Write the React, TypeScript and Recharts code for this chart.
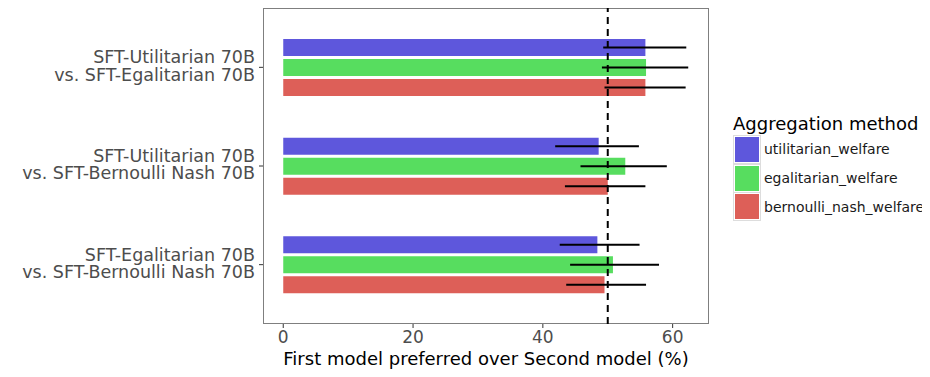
import { BarChart, Bar, XAxis, YAxis, ErrorBar, ReferenceLine, CartesianGrid, Legend } from 'recharts';

// model pairs compared (first line / second line of the axis label)
const pairsTop = ['SFT-Utilitarian 70B', 'SFT-Utilitarian 70B', 'SFT-Egalitarian 70B'];
const pairsBottom = ['vs. SFT-Egalitarian 70B', 'vs. SFT-Bernoulli Nash 70B', 'vs. SFT-Bernoulli Nash 70B'];

// win rate (%) per aggregation method, with interval bounds
const utilitarian = [55.8, 48.6, 48.4];
const utilitarianLow = [49.3, 41.9, 42.6];
const utilitarianHigh = [62.1, 54.8, 54.9];

const egalitarian = [55.9, 52.7, 50.8];
const egalitarianLow = [49.1, 45.8, 44.2];
const egalitarianHigh = [62.4, 59.1, 57.9];

const bernoulli = [55.8, 50.0, 49.5];
const bernoulliLow = [49.5, 43.4, 43.6];
const bernoulliHigh = [62.0, 55.8, 55.9];

const xTicks = [0, 20, 40, 60];

const series = [
  { key: 'utilitarian_welfare', color: '#5E57DC' },
  { key: 'egalitarian_welfare', color: '#57DD5F' },
  { key: 'bernoulli_nash_welfare', color: '#DD5F58' },
];

const data = pairsTop.map((top, i) => ({
  pair: `${top}\n${pairsBottom[i]}`,
  utilitarian_welfare: utilitarian[i],
  utilitarian_err: [utilitarian[i] - utilitarianLow[i], utilitarianHigh[i] - utilitarian[i]],
  egalitarian_welfare: egalitarian[i],
  egalitarian_err: [egalitarian[i] - egalitarianLow[i], egalitarianHigh[i] - egalitarian[i]],
  bernoulli_nash_welfare: bernoulli[i],
  bernoulli_nash_err: [bernoulli[i] - bernoulliLow[i], bernoulliHigh[i] - bernoulli[i]],
}));

const errKeys: Record<string, string> = {
  utilitarian_welfare: 'utilitarian_err',
  egalitarian_welfare: 'egalitarian_err',
  bernoulli_nash_welfare: 'bernoulli_nash_err',
};

const FONT = '"DejaVu Sans", sans-serif';

// plot panel edges (chart pixels) for the grey frame
const PLOT_LEFT = 255;
const PLOT_RIGHT = 701;
const PLOT_TOP = 0;
const PLOT_BOTTOM = 316;

const PairTick = (props: any) => {
  const { x, y, payload } = props;
  const [a, b] = String(payload.value).split('\n');
  return (
    <text x={x} y={y} textAnchor="end" fill="#4D4D4D" fontSize={17.5} fontFamily={FONT}>
      <tspan x={x} dy={-4}>{a}</tspan>
      <tspan x={x} dy={17.2}>{b}</tspan>
    </text>
  );
};

const LegendBox = () => (
  <div style={{ fontFamily: FONT, paddingLeft: 24, whiteSpace: 'nowrap' }}>
    <div style={{ fontSize: 18, color: '#000', lineHeight: '22px' }}>Aggregation method</div>
    {series.map((s) => (
      <div key={s.key} style={{ display: 'flex', alignItems: 'center', height: 28.7 }}>
        <div style={{ width: 24, height: 25, border: '1px solid #DDDDDD', padding: 1, boxSizing: 'content-box' }}>
          <div style={{ width: 24, height: 25, background: s.color }} />
        </div>
        <span style={{ fontSize: 14, color: '#1A1A1A', marginLeft: 3 }}>{s.key}</span>
      </div>
    ))}
  </div>
);

export default function App() {
  return (
    <BarChart
      width={914}
      height={361}
      data={data}
      layout="vertical"
      margin={{ top: 0, right: 13, bottom: 0, left: 0 }}
      barSize={17}
      barGap={3}
    >
      <CartesianGrid
        stroke="#7F7F7F"
        horizontalPoints={[PLOT_TOP + 0.5, PLOT_BOTTOM - 0.5]}
        verticalPoints={[PLOT_LEFT + 0.5, PLOT_RIGHT - 0.5]}
      />
      <XAxis
        type="number"
        domain={[-3.12, 65.6]}
        ticks={xTicks}
        allowDataOverflow
        height={45}
        axisLine={false}
        tickSize={4}
        tickMargin={3}
        tickLine={{ stroke: '#333333' }}
        tick={{ fill: '#4D4D4D', fontSize: 17, fontFamily: FONT }}
        label={{
          value: 'First model preferred over Second model (%)',
          position: 'insideBottom',
          offset: 4,
          fill: '#000',
          fontSize: 18,
          fontFamily: FONT,
        }}
      />
      <YAxis
        type="category"
        dataKey="pair"
        width={255}
        axisLine={false}
        tickSize={4}
        tickMargin={4}
        tickLine={{ stroke: '#333333' }}
        tick={<PairTick />}
        padding={{ top: 10, bottom: 10 }}
      />
      {series.map((s) => (
        <Bar key={s.key} dataKey={s.key} fill={s.color} isAnimationActive={false}>
          <ErrorBar dataKey={errKeys[s.key]} direction="x" width={0} stroke="#000" strokeWidth={2} />
        </Bar>
      ))}
      <ReferenceLine x={50} stroke="#000" strokeWidth={2} strokeDasharray="7 5" />
      <Legend
        layout="vertical"
        align="right"
        verticalAlign="top"
        width={200}
        content={<LegendBox />}
        wrapperStyle={{ top: 105, width: 200 }}
      />
    </BarChart>
  );
}
